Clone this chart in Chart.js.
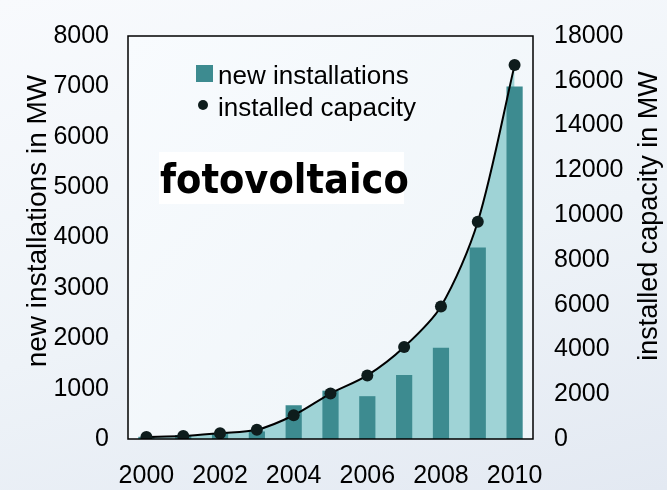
<!DOCTYPE html>
<html><head><meta charset="utf-8">
<script src="https://cdn.jsdelivr.net/npm/chart.js@4/dist/chart.umd.min.js"></script>
<style>
html,body{margin:0;padding:0;}
body{width:667px;height:490px;overflow:hidden;background:linear-gradient(165deg,#f8fafd 0%,#eef3f8 55%,#e3e9f2 100%);}
canvas{display:block;}
</style></head><body>
<canvas id="c" width="667" height="490"></canvas>
<script>
const years = ['2000','2001','2002','2003','2004','2005','2006','2007','2008','2009','2010'];
const newInstallations = [44, 80, 120, 150, 670, 960, 850, 1270, 1810, 3800, 7000];
const installedCapacity = [90, 130, 260, 410, 1060, 2030, 2840, 4110, 5920, 9700, 16700];
const seriesNames = ['new installations', 'installed capacity'];
const chartTitle = 'fotovoltaico';
const leftAxisTitle = 'new installations in MW';
const rightAxisTitle = 'installed capacity in MW';

const FONT = '"Liberation Sans", Arial, sans-serif';
const BAR = '#3d8b90';
const AREA = '#9fd3d6';
const DOT = '#0e1c1c';

const bgPlugin = {
  id: 'bg',
  beforeDraw(chart) {
    const {ctx, chartArea: a} = chart;
    ctx.save();
    const g = ctx.createLinearGradient(a.left, a.top, a.right, a.bottom);
    g.addColorStop(0, '#f8fbfe');
    g.addColorStop(1, '#eef4f8');
    ctx.fillStyle = g;
    ctx.fillRect(a.left, a.top, a.right - a.left, a.bottom - a.top);
    ctx.restore();
  }
};

const framePlugin = {
  id: 'frame',
  afterDatasetsDraw(chart) {
    const {ctx, chartArea: a} = chart;
    ctx.save();
    ctx.strokeStyle = '#000';
    ctx.lineWidth = 1.5;
    ctx.strokeRect(a.left, a.top, a.right - a.left, a.bottom - a.top);
    ctx.restore();
  }
};

const decoPlugin = {
  id: 'deco',
  afterDraw(chart) {
    const {ctx, chartArea: a} = chart;
    ctx.save();
    // legend
    ctx.font = '26px ' + FONT;
    ctx.textBaseline = 'alphabetic';
    ctx.textAlign = 'left';
    ctx.fillStyle = BAR;
    ctx.fillRect(a.left + 68, a.top + 29, 17, 17);
    ctx.fillStyle = DOT;
    ctx.beginPath();
    ctx.arc(a.left + 75, a.top + 69, 5, 0, Math.PI * 2);
    ctx.fill();
    ctx.fillStyle = '#000';
    ctx.fillText(chart.data.datasets[0].label, a.left + 90, a.top + 47.5);
    ctx.fillText(chart.data.datasets[1].label, a.left + 90, a.top + 79.5);
    // title box
    ctx.fillStyle = '#ffffff';
    ctx.fillRect(a.left + 31, a.top + 116, 245, 52);
    ctx.fillStyle = '#000';
    ctx.font = 'bold 41px "DejaVu Sans Condensed", "DejaVu Sans", sans-serif';
    ctx.fillText(chartTitle, a.left + 32, a.top + 157);
    // axis titles
    ctx.font = '28px ' + FONT;
    ctx.textAlign = 'center';
    ctx.save();
    ctx.translate(46, 221);
    ctx.rotate(-Math.PI / 2);
    ctx.fillText(leftAxisTitle, 0, 0);
    ctx.restore();
    ctx.font = '27px ' + FONT;
    ctx.save();
    ctx.translate(657, 216);
    ctx.rotate(-Math.PI / 2);
    ctx.fillText(rightAxisTitle, 0, 0);
    ctx.restore();
    ctx.restore();
  }
};

const tickFont = {family: FONT, size: 25};
const plain = v => String(v);

new Chart(document.getElementById('c'), {
  type: 'bar',
  data: {
    labels: years,
    datasets: [
      {
        type: 'bar', label: seriesNames[0], data: newInstallations, yAxisID: 'y', order: 1,
        backgroundColor: BAR, borderWidth: 0, barPercentage: 0.44, categoryPercentage: 1
      },
      {
        type: 'line', label: seriesNames[1], data: installedCapacity, yAxisID: 'y1', order: 0,
        borderColor: '#000', borderWidth: 2, backgroundColor: AREA, fill: 'origin', tension: 0.3,
        pointRadius: 6, pointBackgroundColor: DOT, pointBorderColor: DOT, pointBorderWidth: 0
      }
    ]
  },
  options: {
    responsive: false,
    animation: false,
    layout: {padding: {top: 14, left: 0, right: 0, bottom: 0}},
    plugins: {
      legend: {display: false},
      tooltip: {enabled: false},
      filler: {drawTime: 'beforeDatasetsDraw'}
    },
    scales: {
      x: {
        offset: true,
        grid: {display: false, drawTicks: false},
        border: {display: false},
        ticks: {
          autoSkip: false, maxRotation: 0, minRotation: 0, padding: 22, color: '#000', font: tickFont,
          callback: (v, i) => (i % 2 === 0 ? years[i] : '')
        },
        afterFit: s => { s.height = 51; }
      },
      y: {
        position: 'left', min: 0, max: 8000,
        grid: {display: false, drawTicks: false},
        border: {display: false},
        ticks: {stepSize: 1000, padding: 19, color: '#000', font: tickFont, callback: plain},
        afterFit: s => { s.width = 128; }
      },
      y1: {
        position: 'right', min: 0, max: 18000,
        grid: {display: false, drawTicks: false},
        border: {display: false},
        ticks: {stepSize: 2000, padding: 21, color: '#000', font: tickFont, callback: plain},
        afterFit: s => { s.width = 134; }
      }
    }
  },
  plugins: [bgPlugin, framePlugin, decoPlugin]
});
</script>
</body></html>
